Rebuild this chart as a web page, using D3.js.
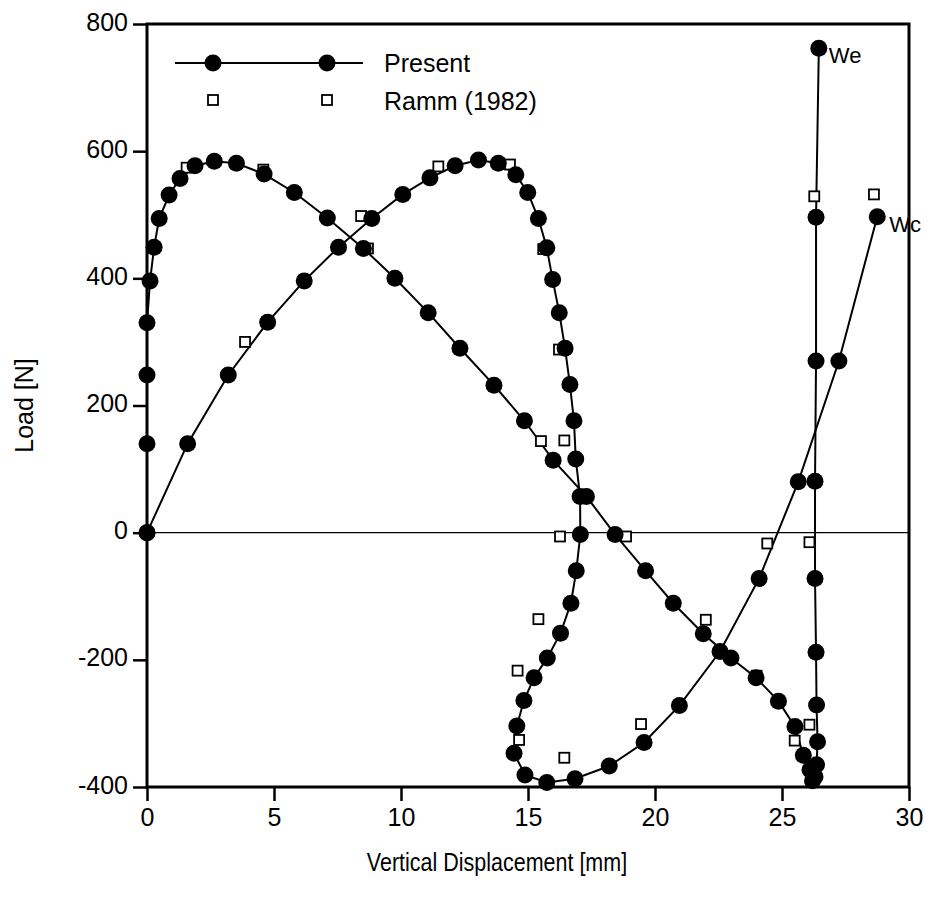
<!DOCTYPE html>
<html>
<head>
<meta charset="utf-8">
<script src="https://cdn.jsdelivr.net/npm/d3@7"></script>
<style>
  body { margin: 0; background: #fff; }
  svg { display: block; }
  text { font-family: "Liberation Sans", Arial, Helvetica, sans-serif; fill: #000; }
</style>
</head>
<body>
<div id="chart"></div>
<script>
// load-displacement data [displacement mm, load N]
// "Present" solution, edge node (label We)
var presentWe = [
  [0, 0], [0, 140], [0, 248], [0, 330], [0.12, 396], [0.28, 449], [0.48, 494],
  [0.87, 531], [1.3, 557], [1.89, 577], [2.65, 584], [3.52, 581], [4.61, 564],
  [5.8, 535], [7.1, 495], [8.52, 447], [9.76, 400], [11.07, 346], [12.32, 290],
  [13.66, 232], [14.86, 176], [15.99, 114], [17.3, 57], [18.43, -3], [19.63, -60],
  [20.72, -111], [21.9, -159], [22.99, -197], [23.98, -228], [24.86, -265],
  [25.51, -305], [25.84, -350], [26.1, -373], [26.2, -390], [26.3, -384],
  [26.36, -365], [26.4, -329], [26.36, -271], [26.34, -188], [26.3, -72],
  [26.3, 81], [26.34, 270], [26.34, 496], [26.45, 762]
];
// "Present" solution, centre node (label Wc)
var presentWc = [
  [0, 0], [1.6, 140], [3.2, 248], [4.75, 331], [6.19, 396], [7.54, 449],
  [8.85, 494], [10.07, 532], [11.14, 558], [12.13, 577], [13.05, 586],
  [13.83, 581], [14.52, 563], [14.99, 535], [15.41, 494], [15.74, 448],
  [15.97, 398], [16.23, 346], [16.46, 290], [16.65, 233], [16.81, 176],
  [16.88, 116], [17.05, 57], [17.06, -3], [16.9, -60], [16.69, -111],
  [16.28, -158], [15.76, -197], [15.24, -228], [14.84, -264], [14.56, -304],
  [14.45, -347], [14.88, -381], [15.74, -393], [16.85, -387], [18.2, -367],
  [19.57, -330], [20.96, -272], [22.56, -187], [24.1, -72], [25.64, 80],
  [27.24, 270], [28.75, 497]
];
// Ramm (1982) reference points
var ramm = [
  [0, 0], [1.56, 574], [4.58, 571], [3.86, 300], [8.43, 498], [8.7, 447],
  [11.47, 576], [14.29, 579], [15.6, 446], [16.22, 288], [15.51, 144],
  [16.43, 145], [16.26, -6], [18.86, -6], [15.41, -136], [14.59, -217],
  [14.65, -326], [16.43, -354], [19.45, -301], [22.0, -137], [24.0, -225],
  [24.42, -17], [26.08, -15], [26.08, -302], [25.5, -327], [26.27, 529],
  [28.62, 532]
];
var xTicks = [0, 5, 10, 15, 20, 25, 30];
var yTicks = [-400, -200, 0, 200, 400, 600, 800];
var curveLabels = ["We", "Wc"];
var legendNames = ["Present", "Ramm (1982)"];

var width = 927, height = 909;
var margin = {left: 147, right: 18, top: 24, bottom: 122};

var svg = d3.select("#chart").append("svg")
  .attr("width", width)
  .attr("height", height);

var x = d3.scaleLinear().domain([0, 30]).range([margin.left, width - margin.right]);
var y = d3.scaleLinear().domain([-400, 800]).range([height - margin.bottom, margin.top]);

// zero line
svg.append("line")
  .attr("x1", x(0)).attr("x2", x(30))
  .attr("y1", y(0)).attr("y2", y(0))
  .attr("stroke", "#000").attr("stroke-width", 1.3);

// axes (plain hyphen for negatives, like the original)
var plain = function (d) { return String(d); };
var xAxis = svg.append("g")
  .attr("transform", "translate(0," + y(-400) + ")")
  .call(d3.axisBottom(x).tickValues(xTicks).tickFormat(plain).tickSize(14).tickSizeOuter(0).tickPadding(7));
var yAxis = svg.append("g")
  .attr("transform", "translate(" + x(0) + ",0)")
  .call(d3.axisLeft(y).tickValues(yTicks).tickFormat(plain).tickSize(14).tickSizeOuter(0).tickPadding(5));
[xAxis, yAxis].forEach(function (g) {
  g.select(".domain").remove();
  g.selectAll(".tick line").attr("stroke", "#000").attr("stroke-width", 2.5);
  g.selectAll(".tick text")
    .style("font-family", '"Liberation Sans", Arial, sans-serif')
    .style("font-size", "25px")
    .attr("fill", "#000");
});
yAxis.selectAll(".tick text").attr("dy", "0.24em");

// frame
svg.append("rect")
  .attr("x", x(0)).attr("y", y(800))
  .attr("width", x(30) - x(0)).attr("height", y(-400) - y(800))
  .attr("fill", "none").attr("stroke", "#000").attr("stroke-width", 3);

// titles
svg.append("text")
  .attr("transform", "translate(24," + ((y(800) + y(-400)) / 2) + ") rotate(-90)")
  .attr("text-anchor", "middle").attr("dy", "0.35em")
  .style("font-size", "25px")
  .text("Load [N]");
// the original title is set in a narrow face
svg.append("text")
  .attr("transform", "translate(497,871) scale(0.86,1)")
  .attr("text-anchor", "middle")
  .style("font-size", "25px")
  .text("Vertical Displacement [mm]");

// curves
var line = d3.line()
  .x(function (d) { return x(d[0]); })
  .y(function (d) { return y(d[1]); });

[presentWe, presentWc].forEach(function (s) {
  svg.append("path")
    .datum(s)
    .attr("d", line)
    .attr("fill", "none").attr("stroke", "#000").attr("stroke-width", 2);
});

var sq = 10;
svg.append("g").selectAll("rect")
  .data(ramm)
  .enter().append("rect")
  .attr("x", function (d) { return x(d[0]) - sq / 2; })
  .attr("y", function (d) { return y(d[1]) - sq / 2; })
  .attr("width", sq).attr("height", sq)
  .attr("fill", "#fff").attr("stroke", "#000").attr("stroke-width", 1.8);

svg.append("g").selectAll("circle")
  .data(presentWe.concat(presentWc))
  .enter().append("circle")
  .attr("cx", function (d) { return x(d[0]); })
  .attr("cy", function (d) { return y(d[1]); })
  .attr("r", 8.5)
  .attr("fill", "#000");

// end labels
var lastWe = presentWe[presentWe.length - 1];
var lastWc = presentWc[presentWc.length - 1];
svg.append("text")
  .attr("x", x(lastWe[0]) + 10).attr("y", y(lastWe[1]) + 15)
  .style("font-size", "22px")
  .text(curveLabels[0]);
svg.append("text")
  .attr("x", x(lastWc[0]) + 12).attr("y", y(lastWc[1]) + 15)
  .style("font-size", "22px")
  .text(curveLabels[1]);

// legend
var lg = svg.append("g");
lg.append("line")
  .attr("x1", 175).attr("x2", 363).attr("y1", 63).attr("y2", 63)
  .attr("stroke", "#000").attr("stroke-width", 2);
[213, 327].forEach(function (cx) {
  lg.append("circle").attr("cx", cx).attr("cy", 63).attr("r", 8.5).attr("fill", "#000");
  lg.append("rect")
    .attr("x", cx - sq / 2).attr("y", 100 - sq / 2)
    .attr("width", sq).attr("height", sq)
    .attr("fill", "#fff").attr("stroke", "#000").attr("stroke-width", 1.8);
});
lg.append("text").attr("x", 384).attr("y", 72).style("font-size", "25px").text(legendNames[0]);
lg.append("text").attr("x", 384).attr("y", 110).style("font-size", "25px").text(legendNames[1]);
</script>
</body>
</html>
